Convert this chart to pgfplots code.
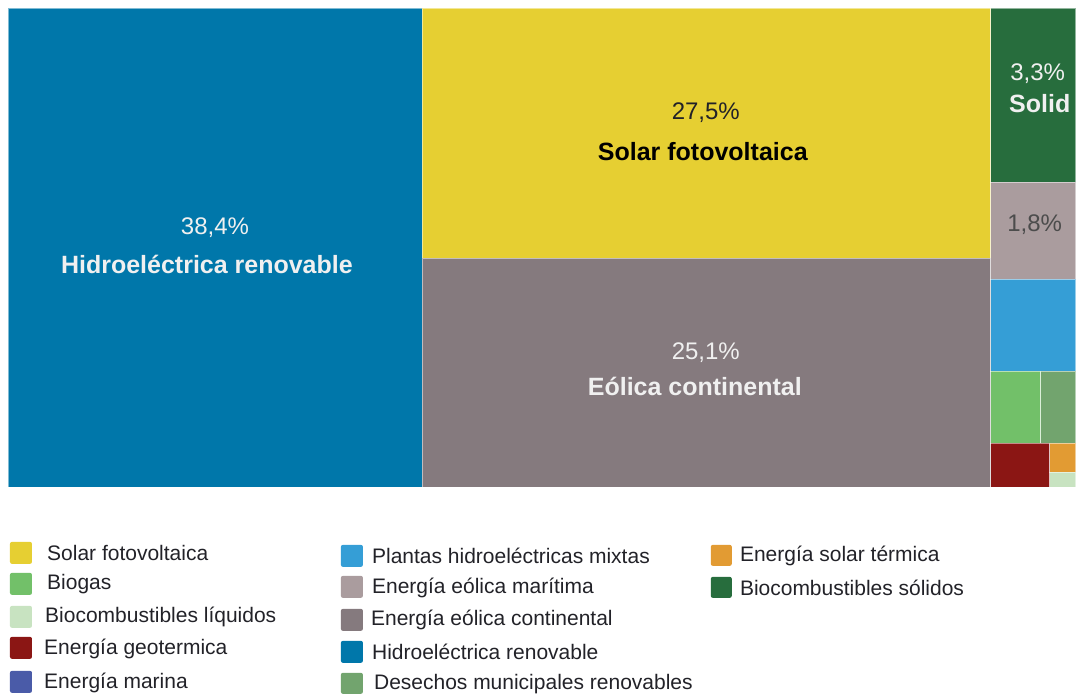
\documentclass[border=0pt]{standalone}
\usepackage{fontspec}
\setmainfont{Liberation Sans}
\usepackage{pgfplots}
\pgfplotsset{compat=1.18}

\definecolor{cHydro}{RGB}{0,119,170}
\definecolor{cSolar}{RGB}{230,207,50}
\definecolor{cOnshore}{RGB}{133,122,126}
\definecolor{cSolid}{RGB}{39,109,61}
\definecolor{cOffshore}{RGB}{170,156,158}
\definecolor{cMixed}{RGB}{53,158,214}
\definecolor{cBiogas}{RGB}{114,192,105}
\definecolor{cWaste}{RGB}{114,164,110}
\definecolor{cGeo}{RGB}{139,22,20}
\definecolor{cThermal}{RGB}{226,155,51}
\definecolor{cLiquid}{RGB}{200,227,193}
\definecolor{cMarine}{RGB}{74,91,168}
\definecolor{cText}{RGB}{34,34,40}

\pgfplotsset{
    tile/.style={fill=#1, draw=white, draw opacity=0.5, line width=0.6pt},
    swatch/.style={fill=#1, draw=none, rounded corners=2pt},
}
\newcommand{\tilefont}{\fontsize{24}{28}\selectfont}
\newcommand{\namefont}{\fontsize{25}{29}\selectfont\bfseries}
\newcommand{\legfont}{\fontsize{21}{24}\selectfont}

\begin{document}
\begin{tikzpicture}
\begin{axis}[
    x=1pt, y=1pt, y dir=reverse,
    xmin=0, xmax=1076, ymin=0, ymax=694,
    hide axis, clip=false, scale only axis,
]
% canvas
\addplot[draw=none, forget plot] coordinates {(0,0) (1076,694)};

% treemap tiles (pixel boxes)
\addplot[tile=cHydro]    coordinates {(8,8) (422,8) (422,487) (8,487)} -- cycle;
\addplot[tile=cSolar]    coordinates {(422,8) (991,8) (991,258) (422,258)} -- cycle;
\addplot[tile=cOnshore]  coordinates {(422,258) (991,258) (991,487) (422,487)} -- cycle;
\addplot[tile=cSolid]    coordinates {(991,8) (1076,8) (1076,182) (991,182)} -- cycle;
\addplot[tile=cOffshore] coordinates {(991,182) (1076,182) (1076,279) (991,279)} -- cycle;
\addplot[tile=cMixed]    coordinates {(991,279) (1076,279) (1076,371) (991,371)} -- cycle;
\addplot[tile=cBiogas]   coordinates {(991,371) (1041,371) (1041,443) (991,443)} -- cycle;
\addplot[tile=cWaste]    coordinates {(1041,371) (1076,371) (1076,443) (1041,443)} -- cycle;
\addplot[tile=cGeo]      coordinates {(991,443) (1050,443) (1050,487) (991,487)} -- cycle;
\addplot[tile=cThermal]  coordinates {(1050,443) (1076,443) (1076,472) (1050,472)} -- cycle;
\addplot[tile=cLiquid]   coordinates {(1050,472) (1076,472) (1076,487) (1050,487)} -- cycle;

% tile labels
\node[text=white!94!black, font=\tilefont] at (axis cs:215,228) {38,4\%};
\node[text=white!94!black, font=\namefont] at (axis cs:207,265) {Hidroeléctrica renovable};
\node[text=cText, font=\tilefont] at (axis cs:706,113) {27,5\%};
\node[text=black, font=\namefont] at (axis cs:703,152) {Solar fotovoltaica};
\node[text=white!94!black, font=\tilefont] at (axis cs:706,353) {25,1\%};
\node[text=white!94!black, font=\namefont] at (axis cs:695,387) {Eólica continental};
\node[text=white!94!black, font=\tilefont] at (axis cs:1038,74) {3,3\%};
\node[text=white!94!black, font=\namefont] at (axis cs:1040,104) {Solid};
\node[text=black!70, font=\tilefont] at (axis cs:1035,225) {1,8\%};

% legend column 1
\addplot[swatch=cSolar]   coordinates {(10,542) (32,542) (32,564) (10,564)} -- cycle;
\addplot[swatch=cBiogas]  coordinates {(10,573) (32,573) (32,595) (10,595)} -- cycle;
\addplot[swatch=cLiquid]  coordinates {(10,606) (32,606) (32,628) (10,628)} -- cycle;
\addplot[swatch=cGeo]     coordinates {(10,637) (32,637) (32,659) (10,659)} -- cycle;
\addplot[swatch=cMarine]  coordinates {(10,671) (32,671) (32,693) (10,693)} -- cycle;
\node[anchor=west, inner sep=0pt, text=cText, font=\legfont] at (axis cs:47,553) {Solar fotovoltaica};
\node[anchor=west, inner sep=0pt, text=cText, font=\legfont] at (axis cs:47,584) {Biogas};
\node[anchor=west, inner sep=0pt, text=cText, font=\legfont] at (axis cs:45,617) {Biocombustibles líquidos};
\node[anchor=west, inner sep=0pt, text=cText, font=\legfont] at (axis cs:44,649) {Energía geotermica};
\node[anchor=west, inner sep=0pt, text=cText, font=\legfont] at (axis cs:44,683) {Energía marina};

% legend column 2
\addplot[swatch=cMixed]    coordinates {(341,545) (363,545) (363,567) (341,567)} -- cycle;
\addplot[swatch=cOffshore] coordinates {(341,576) (363,576) (363,598) (341,598)} -- cycle;
\addplot[swatch=cOnshore]  coordinates {(341,609) (363,609) (363,631) (341,631)} -- cycle;
\addplot[swatch=cHydro]    coordinates {(341,641) (363,641) (363,663) (341,663)} -- cycle;
\addplot[swatch=cWaste]    coordinates {(341,673) (363,673) (363,694) (341,694)} -- cycle;
\node[anchor=west, inner sep=0pt, text=cText, font=\legfont] at (axis cs:372,556) {Plantas hidroeléctricas mixtas};
\node[anchor=west, inner sep=0pt, text=cText, font=\legfont] at (axis cs:372,588) {Energía eólica marítima};
\node[anchor=west, inner sep=0pt, text=cText, font=\legfont] at (axis cs:371,620) {Energía eólica continental};
\node[anchor=west, inner sep=0pt, text=cText, font=\legfont] at (axis cs:372,652) {Hidroeléctrica renovable};
\node[anchor=west, inner sep=0pt, text=cText, font=\legfont] at (axis cs:374,684) {Desechos municipales renovables};

% legend column 3
\addplot[swatch=cThermal] coordinates {(711,545) (732,545) (732,566) (711,566)} -- cycle;
\addplot[swatch=cSolid]   coordinates {(711,577) (732,577) (732,598) (711,598)} -- cycle;
\node[anchor=west, inner sep=0pt, text=cText, font=\legfont] at (axis cs:740,556) {Energía solar térmica};
\node[anchor=west, inner sep=0pt, text=cText, font=\legfont] at (axis cs:740,588) {Biocombustibles sólidos};
\end{axis}
\end{tikzpicture}
\end{document}
